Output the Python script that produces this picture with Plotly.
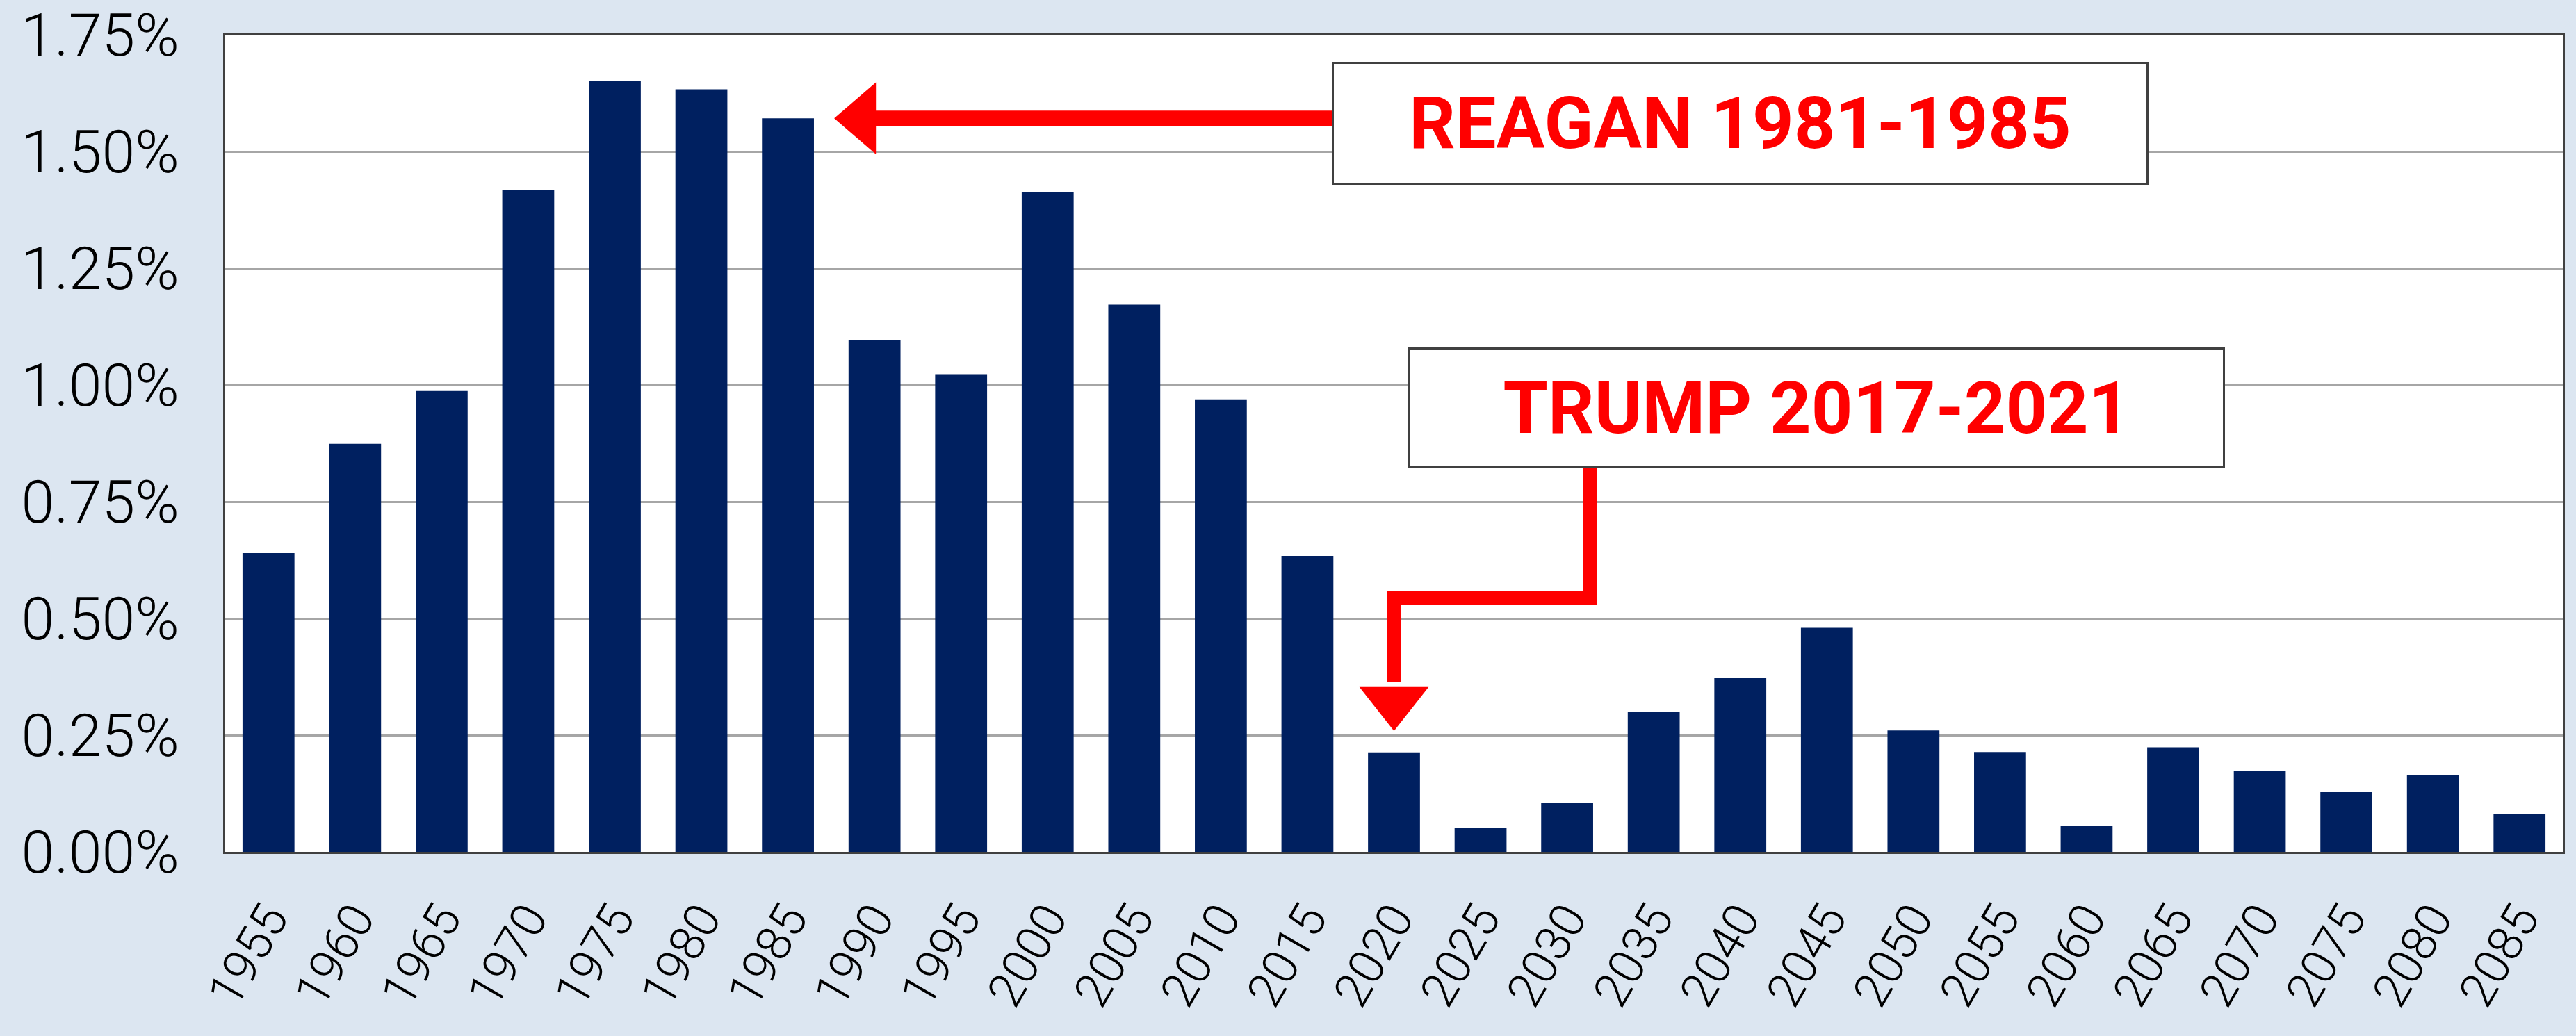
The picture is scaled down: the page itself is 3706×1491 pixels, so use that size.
import plotly.graph_objects as go

years = [1955, 1960, 1965, 1970, 1975, 1980, 1985, 1990, 1995, 2000, 2005, 2010, 2015,
         2020, 2025, 2030, 2035, 2040, 2045, 2050, 2055, 2060, 2065, 2070, 2075, 2080, 2085]
growth = [0.640, 0.874, 0.987, 1.417, 1.651, 1.633, 1.571, 1.096, 1.023, 1.413, 1.172, 0.969, 0.634,
          0.213, 0.051, 0.105, 0.300, 0.372, 0.480, 0.260, 0.214, 0.055, 0.224, 0.173, 0.128, 0.164, 0.082]
tick_labels = [str(y) for y in years]
y_ticks = [0, 0.25, 0.5, 0.75, 1.0, 1.25, 1.5, 1.75]
y_tick_labels = [f"{v:.2f}%" for v in y_ticks]

reagan_label = "REAGAN 1981-1985"
trump_label = "TRUMP 2017-2021"
reagan_year = 1985
trump_year = 2020

BAR = "#002060"
RED = "#FF0000"
BG = "#DCE6F1"

fig = go.Figure()
fig.add_trace(go.Bar(x=years, y=growth, width=3.0, marker=dict(color=BAR, line=dict(width=0)),
                     showlegend=False, hoverinfo="x+y"))

ry = growth[years.index(reagan_year)]
# Reagan arrow (horizontal, pointing left at the 1985 bar)
tip_x = reagan_year + 2.67
base_x = reagan_year + 5.08
fig.add_shape(type="line", xref="x", yref="y", x0=base_x - 0.2, x1=2020, y0=ry, y1=ry,
              line=dict(color=RED, width=22), layer="above")
fig.add_shape(type="path", xref="x", yref="y",
              path=f"M {tip_x},{ry} L {base_x},{ry + 0.077} L {base_x},{ry - 0.077} Z",
              fillcolor=RED, line=dict(color=RED, width=0), layer="above")

# Trump elbow arrow (pointing down at the 2020 bar)
tx_top = 2031.3
t_elbow_y = 0.543
t_base_y = 0.353
t_tip_y = 0.259
fig.add_shape(type="path", xref="x", yref="y",
              path=f"M {tx_top},0.9 L {tx_top},{t_elbow_y} L {trump_year},{t_elbow_y} L {trump_year},{t_base_y + 0.01}",
              line=dict(color=RED, width=20), layer="above")
fig.add_shape(type="path", xref="x", yref="y",
              path=f"M {trump_year - 2.0},{t_base_y} L {trump_year + 2.0},{t_base_y} L {trump_year},{t_tip_y} Z",
              fillcolor=RED, line=dict(color=RED, width=0), layer="above")

box_font = dict(family="Roboto", size=104, color=RED)
fig.add_annotation(x=2040.0, y=1.560, xref="x", yref="y", text=f"<b>{reagan_label}</b>",
                   showarrow=False, font=box_font, bgcolor="white", bordercolor="#404040",
                   borderwidth=3, borderpad=0, width=1169, height=171,
                   xanchor="center", yanchor="middle", align="center", valign="middle")
fig.add_annotation(x=2044.4, y=0.951, xref="x", yref="y", text=f"<b>{trump_label}</b>",
                   showarrow=False, font=box_font, bgcolor="white", bordercolor="#404040",
                   borderwidth=3, borderpad=0, width=1169, height=168,
                   xanchor="center", yanchor="middle", align="center", valign="middle")

y_tick_font = dict(family="Roboto", size=86, color="black", weight=300)
x_tick_font = dict(family="Roboto", size=70, color="black", weight=300)
fig.update_layout(
    width=3706, height=1491,
    margin=dict(l=324, r=19, t=50, b=265, pad=0, autoexpand=False),
    paper_bgcolor=BG, plot_bgcolor="white",
    bargap=0.4,
    xaxis=dict(range=[1952.5, 2087.5], tickmode="array", tickvals=years, ticktext=tick_labels,
               tickangle=-60, tickfont=x_tick_font, showgrid=False, zeroline=False,
               showline=True, linecolor="#404040", linewidth=3, mirror=True, ticks="",
               ticklabelstandoff=24, automargin=False),
    yaxis=dict(range=[0, 1.75], tickmode="array", tickvals=y_ticks, ticktext=y_tick_labels,
               tickfont=y_tick_font, showgrid=True, gridcolor="#A6A6A6", gridwidth=3, zeroline=False,
               showline=True, linecolor="#404040", linewidth=3, mirror=True, ticks="",
               ticklabelstandoff=46, automargin=False),
)

fig.write_html("out.html")
